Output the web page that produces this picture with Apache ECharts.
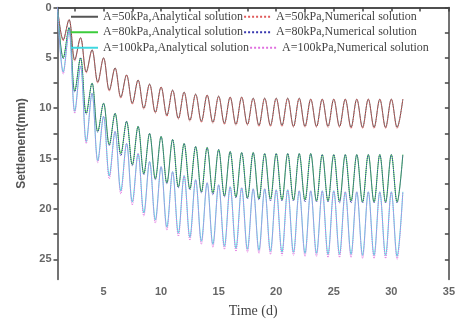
<!DOCTYPE html>
<html><head><meta charset="utf-8">
<script src="https://cdn.jsdelivr.net/npm/echarts@6/dist/echarts.min.js"></script>
<style>html,body{margin:0;padding:0;background:#fff}#c{width:458px;height:324px}</style>
</head><body><div id="c"></div>
<script>
// peak times (days) and trough times (days)
const peakTimes = [1,2,3,4,5,6,7,8,9,10,11,12,13,14,15,16,17,18,19,20,21,22,23,24,25,26,27,28,29,30,31];
const troughTimes = [1.5,2.5,3.5,4.5,5.5,6.5,7.5,8.5,9.5,10.5,11.5,12.5,13.5,14.5,15.5,16.5,17.5,18.5,19.5,20.5,21.5,22.5,23.5,24.5,25.5,26.5,27.5,28.5,29.5,30.5];

// A=50kPa
const a50Peaks   = [0.0,1.2,3.0,4.2,5.0,6.0,6.7,7.2,7.6,7.9,8.2,8.4,8.6,8.7,8.8,8.9,8.9,9.0,9.0,9.0,9.0,9.0,9.1,9.1,9.1,9.1,9.1,9.1,9.1,9.1,9.1];
const a50Troughs = [3.2,5.2,6.4,7.4,8.2,8.9,9.5,10.0,10.4,10.7,11.0,11.2,11.3,11.4,11.5,11.6,11.6,11.7,11.7,11.7,11.8,11.8,11.8,11.8,11.8,11.9,11.9,11.9,11.9,11.9];
const n50Peaks   = [0.0,1.2,3.0,4.2,5.0,6.0,6.7,7.2,7.6,7.9,8.2,8.4,8.6,8.7,8.8,8.9,8.9,9.0,9.0,9.0,9.0,9.0,9.1,9.1,9.1,9.1,9.1,9.1,9.1,9.1,9.1];
const n50Troughs = [3.3,5.3,6.5,7.5,8.3,9.0,9.6,10.1,10.5,10.8,11.1,11.3,11.4,11.5,11.6,11.7,11.7,11.8,11.8,11.8,11.9,11.9,11.9,11.9,11.9,12.0,12.0,12.0,12.0,12.0];
// A=80kPa
const a80Peaks   = [0.0,2.0,5.0,7.5,9.5,10.5,11.3,11.8,12.5,12.8,13.1,13.5,13.8,13.9,14.1,14.3,14.4,14.4,14.5,14.5,14.5,14.5,14.5,14.6,14.6,14.6,14.6,14.6,14.6,14.6,14.6];
const a80Troughs = [5.0,8.3,10.5,12.3,13.6,14.5,15.6,16.5,17.0,17.4,17.8,18.0,18.3,18.4,18.7,18.8,18.9,19.0,19.0,19.1,19.1,19.1,19.2,19.2,19.2,19.2,19.3,19.3,19.3,19.3];
const n80Peaks   = [0.0,2.0,5.0,7.5,9.5,10.5,11.3,11.8,12.5,12.8,13.1,13.5,13.8,13.9,14.1,14.3,14.4,14.4,14.5,14.5,14.5,14.5,14.5,14.6,14.6,14.6,14.6,14.6,14.6,14.6,14.6];
const n80Troughs = [5.1,8.4,10.6,12.4,13.7,14.7,15.7,16.6,17.1,17.5,17.9,18.1,18.4,18.6,18.8,18.9,19.0,19.1,19.2,19.2,19.2,19.3,19.3,19.3,19.4,19.4,19.4,19.4,19.4,19.4];
// A=100kPa
const a100Peaks   = [0.0,2.3,5.8,8.5,10.8,12.3,13.5,14.5,15.3,15.8,16.3,16.7,17.1,17.4,17.6,17.8,17.9,18.0,18.0,18.1,18.1,18.2,18.2,18.2,18.2,18.3,18.3,18.3,18.3,18.3,18.3];
const a100Troughs = [6.4,10.3,13.3,15.2,16.7,18.2,19.3,20.4,21.1,21.8,22.4,22.8,23.2,23.5,23.7,23.9,24.0,24.1,24.2,24.3,24.3,24.4,24.4,24.5,24.5,24.5,24.6,24.6,24.6,24.7];
const n100Peaks   = [0.0,2.3,5.8,8.5,10.8,12.3,13.5,14.5,15.3,15.8,16.3,16.7,17.1,17.4,17.6,17.8,17.9,18.0,18.0,18.1,18.1,18.2,18.2,18.2,18.2,18.3,18.3,18.3,18.3,18.3,18.3];
const n100Troughs = [6.6,10.5,13.5,15.4,17.0,18.5,19.6,20.7,21.4,22.1,22.7,23.1,23.5,23.8,24.0,24.2,24.3,24.4,24.5,24.6,24.6,24.7,24.7,24.8,24.8,24.8,24.9,24.9,24.9,25.0];

const xLabelValues = [5,10,15,20,25,30,35];
const xTickValues = [2.5,5,7.5,10,12.5,15,17.5,20,22.5,25,27.5,30,32.5,35];
const yLabelValues = [0,5,10,15,20,25];
const yTickValues = [0,2.5,5,7.5,10,12.5,15,17.5,20,22.5,25];

function combine(peaks, troughs){
  const out = [];
  for (let i = 0; i < peakTimes.length; i++) {
    out.push([peakTimes[i], peaks[i]]);
    if (i < troughTimes.length) out.push([troughTimes[i], troughs[i]]);
  }
  return out;
}

const seriesDefs = [
  {name:'A=50kPa,Analytical solution', data:combine(a50Peaks,a50Troughs), color:'#555555', type:'solid'},
  {name:'A=50kPa,Numerical solution', data:combine(n50Peaks,n50Troughs), color:'#e05a5a', type:'dotted'},
  {name:'A=80kPa,Analytical solution', data:combine(a80Peaks,a80Troughs), color:'#3ccc3c', type:'solid'},
  {name:'A=80kPa,Numerical solution', data:combine(n80Peaks,n80Troughs), color:'#3838b0', type:'dotted'},
  {name:'A=100kPa,Analytical solution', data:combine(a100Peaks,a100Troughs), color:'#40d8e0', type:'solid'},
  {name:'A=100kPa,Numerical solution', data:combine(n100Peaks,n100Troughs), color:'#e070e0', type:'dotted'}
];

const chart = echarts.init(document.getElementById('c'), null, {renderer:'canvas'});
const axisColor = '#444';
const labelFont = {color:'#666', fontFamily:'Liberation Sans, Arial, sans-serif', fontSize:11, fontWeight:'bold'};
chart.setOption({
  animation:false,
  backgroundColor:'#fff',
  grid:{left:57.5, right:0.5, top:7.5, bottom:44.5, containLabel:false},
  legend:{
    left:65, top:4, width:380, orient:'horizontal',
    itemWidth:27, itemHeight:10, itemGap:0,
    itemStyle:{opacity:0},
    textStyle:{fontFamily:'Liberation Serif, Times New Roman, serif', fontSize:12, color:'#444', lineHeight:15.5},
    data: seriesDefs.map(s=>s.name)
  },
  xAxis:[{
    type:'value', min:1, max:35,
    name:'Time (d)', nameLocation:'middle', nameGap:25,
    nameTextStyle:{fontFamily:'Liberation Serif, Times New Roman, serif', fontSize:14, color:'#444'},
    axisLine:{show:true, lineStyle:{color:axisColor, width:1.5}},
    axisTick:{show:true, inside:false, length:4, customValues:xTickValues, lineStyle:{color:axisColor, width:1.5}},
    axisLabel:{...labelFont, margin:7, customValues:xLabelValues},
    splitLine:{show:false}
  },{
    type:'value', min:1, max:35, position:'top',
    axisLine:{show:true, onZero:false, lineStyle:{color:axisColor, width:1.5}},
    axisTick:{show:true, inside:true, length:3, customValues:xTickValues, lineStyle:{color:axisColor, width:1.5}},
    axisLabel:{show:false}, splitLine:{show:false}
  }],
  yAxis:[{
    type:'value', min:0, max:27, inverse:true,
    name:'Settlement(mm)', nameLocation:'middle', nameGap:30,
    nameTextStyle:{fontFamily:'Liberation Sans, Arial, sans-serif', fontSize:12, color:'#555', fontWeight:'bold'},
    axisLine:{show:true, onZero:false, lineStyle:{color:axisColor, width:1.5}},
    axisTick:{show:true, inside:false, length:4, customValues:yTickValues, lineStyle:{color:axisColor, width:1.5}},
    axisLabel:{...labelFont, margin:6, customValues:yLabelValues},
    splitLine:{show:false}
  },{
    type:'value', min:0, max:27, inverse:true, position:'right',
    axisLine:{show:true, onZero:false, lineStyle:{color:axisColor, width:1.5}},
    axisTick:{show:true, inside:true, length:4, customValues:yTickValues, lineStyle:{color:axisColor, width:1.5}},
    axisLabel:{show:false}, splitLine:{show:false}
  }],
  series: seriesDefs.map(s=>({
    name:s.name, type:'line', data:s.data, xAxisIndex:0, yAxisIndex:0,
    symbol:'none', smooth:0.35,
    lineStyle:{color:s.color, width:1, type:s.type},
    itemStyle:{color:s.color}
  }))
});
</script></body></html>
